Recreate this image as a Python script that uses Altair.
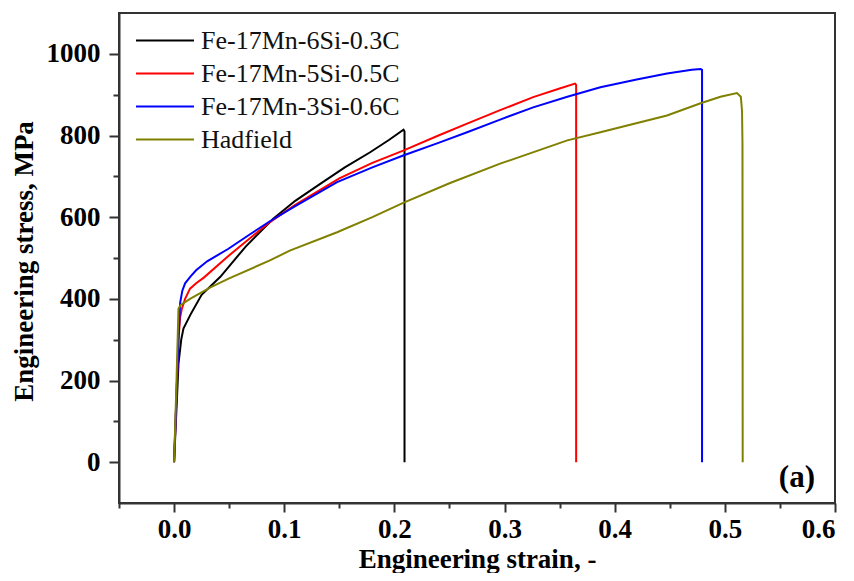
import altair as alt
import pandas as pd

series_names = ["Fe-17Mn-6Si-0.3C", "Fe-17Mn-5Si-0.5C", "Fe-17Mn-3Si-0.6C", "Hadfield"]
series_colors = ["#000000", "#ff0000", "#0000ff", "#808000"]

strain_6si = [0.000, 0.002, 0.004, 0.0065, 0.0085, 0.015, 0.025, 0.042, 0.065, 0.090, 0.110,
              0.133, 0.155, 0.178, 0.195, 0.2083, 0.2092, 0.2092]
stress_6si = [0, 120, 241, 300, 327, 362, 410, 454, 528, 596, 640,
              682, 722, 759, 789, 814, 810, 0]

strain_5si = [0.000, 0.002, 0.004, 0.0055, 0.007, 0.010, 0.0145, 0.020, 0.027, 0.048, 0.057,
              0.075, 0.087, 0.110, 0.150, 0.180, 0.208, 0.240, 0.266, 0.296, 0.326, 0.350,
              0.364, 0.365, 0.365]
stress_5si = [0, 150, 300, 355, 375, 400, 425, 438, 452, 502, 522,
              562, 588, 630, 695, 733, 763, 800, 829, 862, 894, 915,
              927, 924, 0]

strain_3si = [0.000, 0.002, 0.004, 0.0055, 0.0075, 0.010, 0.015, 0.020, 0.030, 0.049, 0.070,
              0.087, 0.110, 0.148, 0.180, 0.208, 0.240, 0.266, 0.296, 0.326, 0.357, 0.387,
              0.420, 0.4475, 0.470, 0.478, 0.4793, 0.4793]
stress_3si = [0, 150, 300, 390, 420, 438, 455, 470, 492, 522, 560,
              590, 627, 686, 722, 751, 782, 808, 839, 869, 895, 918,
              937, 952, 961, 963, 961, 0]

strain_had = [0.000, 0.002, 0.004, 0.006, 0.0145, 0.033, 0.050, 0.087, 0.105, 0.148, 0.180,
              0.208, 0.250, 0.296, 0.357, 0.387, 0.4475, 0.478, 0.496, 0.511, 0.5145, 0.5156,
              0.5160, 0.5162]
stress_had = [0, 180, 376, 385, 400, 428, 450, 494, 518, 563, 600,
              635, 683, 731, 788, 808, 849, 879, 895, 904, 895, 860,
              780, 0]

x_ticks = [-0.05, 0.0, 0.05, 0.1, 0.15, 0.2, 0.25, 0.3, 0.35, 0.4, 0.45, 0.5, 0.55, 0.6]
y_ticks = [0, 100, 200, 300, 400, 500, 600, 700, 800, 900, 1000]

panel_label = ["(a)"]
panel_strain = [0.5654]
panel_stress = [-39]

rows = []
for name, xs, ys in zip(series_names,
                        [strain_6si, strain_5si, strain_3si, strain_had],
                        [stress_6si, stress_5si, stress_3si, stress_had]):
    for i, (x, y) in enumerate(zip(xs, ys)):
        rows.append({"series": name, "strain": x, "stress": y, "order": i})
df = pd.DataFrame(rows)

ann = pd.DataFrame({"strain": panel_strain, "stress": panel_stress, "label": panel_label})

FONT = "Liberation Serif"

x_axis = alt.Axis(
    values=x_ticks,
    title="Engineering strain, -",
    labelExpr="abs(datum.value*10 - round(datum.value*10)) < 0.001 ? format(datum.value, '.1f') : ''",
    tickSize={"condition": {"test": "abs(datum.value*10 - round(datum.value*10)) < 0.001", "value": 9}, "value": 5},
    labelPadding=4,
    titleY=64,
    titleBaseline="alphabetic",
    grid=False,
)
y_axis = alt.Axis(
    values=y_ticks,
    title="Engineering stress, MPa",
    labelExpr="datum.value % 200 === 0 ? format(datum.value, 'd') : ''",
    tickSize={"condition": {"test": "datum.value % 200 === 0", "value": 10}, "value": 6},
    labelPadding=9,
    titleX=-95,
    titleY=248,
    titleAlign="center",
    titleBaseline="middle",
    grid=False,
)

lines = alt.Chart(df).mark_line(strokeWidth=2, clip=True).encode(
    x=alt.X("strain:Q", scale=alt.Scale(domain=[-0.05, 0.6], nice=False, zero=False), axis=x_axis),
    y=alt.Y("stress:Q", scale=alt.Scale(domain=[-100, 1100], nice=False, zero=False), axis=y_axis),
    color=alt.Color(
        "series:N",
        scale=alt.Scale(domain=series_names, range=series_colors),
        legend=alt.Legend(
            title=None,
            orient="none",
            legendX=16,
            legendY=11,
            padding=0,
            symbolType="stroke",
            symbolSize=3364,
            symbolStrokeWidth=2,
            labelFont=FONT,
            labelFontSize=26,
            labelColor="#111111",
            labelOffset=6,
            labelLimit=500,
            clipHeight=33,
            rowPadding=0,
        ),
    ),
    order="order:Q",
)

label = alt.Chart(ann).mark_text(
    font=FONT, fontSize=31, fontWeight="bold", color="#000000", baseline="middle", align="center"
).encode(
    x="strain:Q",
    y="stress:Q",
    text="label:N",
)

chart = alt.layer(lines, label).properties(
    width=716,
    height=490,
    autosize=alt.AutoSizeParams(type="none"),
    padding={"left": 111, "top": 5, "right": 11, "bottom": 70},
    background="white",
).configure_view(
    stroke="#333333", strokeWidth=2
).configure_axis(
    labelFont=FONT,
    labelFontWeight="bold",
    labelFontSize=27,
    labelColor="#000000",
    titleFont=FONT,
    titleFontWeight="bold",
    titleFontSize=27,
    titleColor="#000000",
    domainColor="#333333",
    domainWidth=2,
    tickColor="#333333",
    tickWidth=2,
)

chart.save("out.html", embed_options={"renderer": "svg", "actions": False})
